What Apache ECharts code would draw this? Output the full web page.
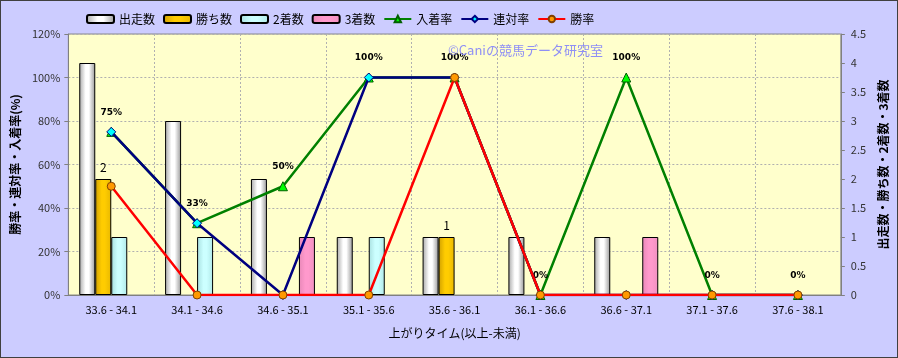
<!DOCTYPE html>
<html><head><meta charset="utf-8">
<script src="https://cdn.jsdelivr.net/npm/echarts@6/dist/echarts.min.js"></script>
<style>
html,body{margin:0;padding:0;background:#fff;}
#wrap{position:absolute;left:0;top:0;width:896px;height:356px;border:1px solid #404040;background:#CCCCFF;}
#c{width:896px;height:356px;}
</style></head><body>
<div id="wrap"><div id="c"></div></div>
<script>
const categories = ['33.6 - 34.1','34.1 - 34.6','34.6 - 35.1','35.1 - 35.6','35.6 - 36.1','36.1 - 36.6','36.6 - 37.1','37.1 - 37.6','37.6 - 38.1'];
const starts = [4, 3, 2, 1, 1, 1, 1, 0, 0];
const wins = [2, 0, 0, 0, 1, 0, 0, 0, 0];
const seconds = [1, 1, 0, 1, 0, 0, 0, 0, 0];
const thirds = [0, 0, 1, 0, 0, 0, 1, 0, 0];
const placeRate = [75, 33, 50, 100, 100, 0, 100, 0, 0];
const quinellaRate = [75, 33, 0, 100, 100, 0, 0, 0, 0];
const winRate = [50, 0, 0, 0, 100, 0, 0, 0, 0];
const leftTicks = ['0%','20%','40%','60%','80%','100%','120%'];

const F = '"Noto Sans CJK JP", "Noto Sans", sans-serif';
function grad(a,b,c){
  return {type:'linear',x:0,y:0,x2:1,y2:0,colorStops:[{offset:0,color:a},{offset:0.4,color:b},{offset:0.6,color:b},{offset:1,color:c}]};
}
function nz(arr){ return arr.map(function(v){ return v === 0 ? null : v; }); }
const chart = echarts.init(document.getElementById('c'), null, {renderer:'canvas'});
const barBase = {type:'bar', yAxisIndex:1, barWidth:16, barGap:'0%', z:2};
chart.setOption({
  animation:false,
  backgroundColor:'#CCCCFF',
  textStyle:{fontFamily:F},
  legend:{left:80, top:7, itemWidth:27, itemHeight:8, itemGap:8,
    textStyle:{fontFamily:F, fontSize:12, color:'#000'},
    data:['出走数','勝ち数','2着数','3着数','入着率','連対率','勝率']},
  graphic:[{type:'text', left:447, top:43, style:{text:'©Caniの競馬データ研究室', fill:'#8F8FF5', font:'13px '+F}, z:10}],
  grid:{left:65, right:55, top:33, bottom:62, show:true, backgroundColor:'#FFFFCC', borderColor:'#888', borderWidth:1},
  xAxis:{type:'category', data:categories, boundaryGap:true,
    name:'上がりタイム(以上-未満)', nameLocation:'middle', nameGap:32,
    nameTextStyle:{fontFamily:F, fontSize:12, color:'#000'},
    axisLine:{lineStyle:{color:'#808080'}}, axisTick:{show:false},
    axisLabel:{fontSize:11, color:'#000', margin:9, fontFamily:F},
    splitLine:{show:true, lineStyle:{color:'#B0B0B0', type:[2,2]}}},
  yAxis:[
    {type:'value', min:0, max:120, interval:20,
     name:'勝率・連対率・入着率(%)', nameLocation:'middle', nameGap:40, nameRotate:90,
     nameTextStyle:{fontFamily:F, fontSize:12, color:'#000', fontWeight:'bold'},
     axisLine:{show:true, lineStyle:{color:'#808080'}}, axisTick:{show:true, length:4, lineStyle:{color:'#808080'}},
     axisLabel:{formatter:function(v){return leftTicks[Math.round(v/20)];}, fontSize:11, color:'#333', margin:8},
     splitLine:{show:true, lineStyle:{color:'#B0B0B0', type:[2,2]}}},
    {type:'value', min:0, max:4.5, interval:0.5, position:'right',
     name:'出走数・勝ち数・2着数・3着数', nameLocation:'middle', nameGap:30, nameRotate:90,
     nameTextStyle:{fontFamily:F, fontSize:12, color:'#000', fontWeight:'bold'},
     axisLine:{show:true, lineStyle:{color:'#808080'}}, axisTick:{show:true, length:4, lineStyle:{color:'#808080'}},
     axisLabel:{fontSize:11, color:'#333', margin:10},
     splitLine:{show:false}}
  ],
  series:[
    Object.assign({}, barBase, {name:'出走数', data:nz(starts),
      itemStyle:{color:grad('#A8A8A8','#FFFFFF','#989898'), borderColor:'#000', borderWidth:1}}),
    Object.assign({}, barBase, {name:'勝ち数', data:nz(wins),
      itemStyle:{color:grad('#D0A000','#FFCC00','#E8B800'), borderColor:'#000', borderWidth:1},
      label:{show:true, position:'top', distance:6, fontSize:12, color:'#000', fontFamily:F,
        formatter:function(p){return p.value>0?String(p.value):'';}}}),
    Object.assign({}, barBase, {name:'2着数', data:nz(seconds),
      itemStyle:{color:grad('#A8E0E0','#CCFFFF','#B0E8E8'), borderColor:'#000', borderWidth:1}}),
    Object.assign({}, barBase, {name:'3着数', data:nz(thirds),
      itemStyle:{color:grad('#E888B8','#FF99CC','#F090C0'), borderColor:'#000', borderWidth:1}}),
    {type:'line', name:'入着率', data:placeRate, yAxisIndex:0, z:5,
      symbol:'triangle', symbolSize:9,
      lineStyle:{color:'#008000', width:2.5}, itemStyle:{color:'#00FF00', borderColor:'#006000', borderWidth:1},
      label:{show:true, position:'top', distance:10, fontSize:9, fontWeight:'bold', color:'#000', fontFamily:'"DejaVu Sans", sans-serif',
        formatter:function(p){return p.value+'%';}}},
    {type:'line', name:'連対率', data:quinellaRate, yAxisIndex:0, z:6,
      symbol:'diamond', symbolSize:9,
      lineStyle:{color:'#000080', width:2.5}, itemStyle:{color:'#00FFFF', borderColor:'#000080', borderWidth:1}},
    {type:'line', name:'勝率', data:winRate, yAxisIndex:0, z:7,
      symbol:'circle', symbolSize:8,
      lineStyle:{color:'#FF0000', width:2.5}, itemStyle:{color:'#FF9900', borderColor:'#804000', borderWidth:1}}
  ]
});
</script></body></html>
